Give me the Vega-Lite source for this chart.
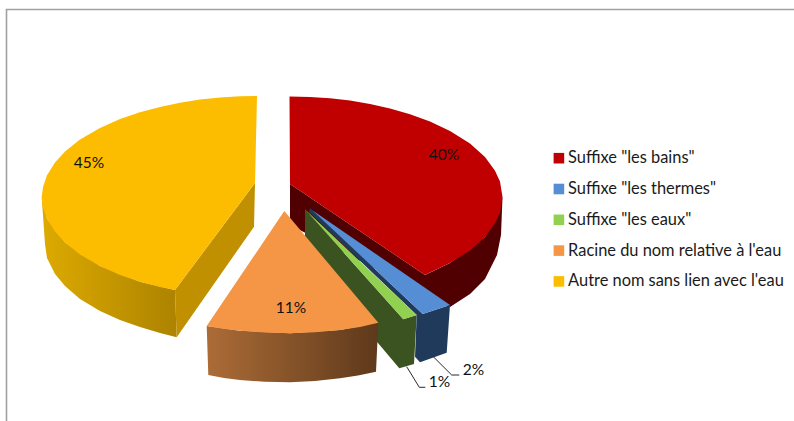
{"$schema":"https://vega.github.io/schema/vega-lite/v6.json","width":794,"height":421,"padding":0,"autosize":"none","background":"white","view":{"stroke":null},
"config":{"font":"Lato"},
"datasets":{
"parts":[
{"serie":"Suffixe \"les bains\"","part":0.40,"x":444,"y":155},
{"serie":"Suffixe \"les thermes\"","part":0.02,"x":473.5,"y":370},
{"serie":"Suffixe \"les eaux\"","part":0.01,"x":439.5,"y":382},
{"serie":"Racine du nom relative à l'eau","part":0.11,"x":291,"y":308},
{"serie":"Autre nom sans lien avec l'eau","part":0.45,"x":89,"y":162.5}
],
"formes":[
{"face":"cadre","ordre":1,"x":6.5,"y":421},{"face":"cadre","ordre":2,"x":6.5,"y":9.5},{"face":"cadre","ordre":3,"x":794,"y":9.5},
{"face":"repere2","ordre":1,"x":433.3,"y":356.7},{"face":"repere2","ordre":2,"x":451.7,"y":375},{"face":"repere2","ordre":3,"x":459.3,"y":375},
{"face":"repere1","ordre":1,"x":406.7,"y":366.7},{"face":"repere1","ordre":2,"x":419.3,"y":387.3},{"face":"repere1","ordre":3,"x":425.3,"y":387.3},

{"face":"flanc_jaune_courbe","ordre":1,"x":41.7,"y":197},{"face":"flanc_jaune_courbe","ordre":2,"x":47,"y":218.7},{"face":"flanc_jaune_courbe","ordre":3,"x":65,"y":242.5},{"face":"flanc_jaune_courbe","ordre":4,"x":100,"y":266},{"face":"flanc_jaune_courbe","ordre":5,"x":140,"y":281.7},{"face":"flanc_jaune_courbe","ordre":6,"x":175,"y":290},{"face":"flanc_jaune_courbe","ordre":7,"x":176.7,"y":337.3},{"face":"flanc_jaune_courbe","ordre":8,"x":160,"y":333},{"face":"flanc_jaune_courbe","ordre":9,"x":140,"y":327},{"face":"flanc_jaune_courbe","ordre":10,"x":120,"y":320},{"face":"flanc_jaune_courbe","ordre":11,"x":100,"y":311},{"face":"flanc_jaune_courbe","ordre":12,"x":80,"y":299},{"face":"flanc_jaune_courbe","ordre":13,"x":65,"y":286},{"face":"flanc_jaune_courbe","ordre":14,"x":55,"y":274},{"face":"flanc_jaune_courbe","ordre":15,"x":47,"y":258},{"face":"flanc_jaune_courbe","ordre":16,"x":45,"y":244},
{"face":"flanc_jaune_plat","ordre":1,"x":175,"y":290},{"face":"flanc_jaune_plat","ordre":2,"x":255,"y":183},{"face":"flanc_jaune_plat","ordre":3,"x":254,"y":226.7},{"face":"flanc_jaune_plat","ordre":4,"x":176.7,"y":337.3},

{"face":"flanc_rouge","ordre":1,"x":290,"y":184},{"face":"flanc_rouge","ordre":2,"x":425,"y":275},{"face":"flanc_rouge","ordre":3,"x":450,"y":263},{"face":"flanc_rouge","ordre":4,"x":485,"y":237},{"face":"flanc_rouge","ordre":5,"x":502.5,"y":197},{"face":"flanc_rouge","ordre":6,"x":501,"y":235},{"face":"flanc_rouge","ordre":7,"x":497,"y":255},{"face":"flanc_rouge","ordre":8,"x":485,"y":279},{"face":"flanc_rouge","ordre":9,"x":470,"y":294},{"face":"flanc_rouge","ordre":10,"x":450,"y":307},{"face":"flanc_rouge","ordre":11,"x":290,"y":225},

{"face":"flanc_vert","ordre":1,"x":305,"y":209.3},{"face":"flanc_vert","ordre":2,"x":403.3,"y":319.3},{"face":"flanc_vert","ordre":3,"x":416.7,"y":315},{"face":"flanc_vert","ordre":4,"x":414,"y":364},{"face":"flanc_vert","ordre":5,"x":399.3,"y":368.3},{"face":"flanc_vert","ordre":6,"x":378,"y":343},{"face":"flanc_vert","ordre":7,"x":305,"y":260},

{"face":"flanc_bleu","ordre":1,"x":310,"y":208},{"face":"flanc_bleu","ordre":2,"x":422.7,"y":314},{"face":"flanc_bleu","ordre":3,"x":450,"y":305},{"face":"flanc_bleu","ordre":4,"x":446.7,"y":352.7},{"face":"flanc_bleu","ordre":5,"x":420,"y":362.3},{"face":"flanc_bleu","ordre":6,"x":415,"y":356.7},{"face":"flanc_bleu","ordre":7,"x":416.7,"y":315},{"face":"flanc_bleu","ordre":8,"x":309,"y":212},

{"face":"flanc_orange","ordre":1,"x":206.7,"y":326},{"face":"flanc_orange","ordre":2,"x":240,"y":330.7},{"face":"flanc_orange","ordre":3,"x":290,"y":333.3},{"face":"flanc_orange","ordre":4,"x":340,"y":330},{"face":"flanc_orange","ordre":5,"x":378.3,"y":322.7},{"face":"flanc_orange","ordre":6,"x":376,"y":371.7},{"face":"flanc_orange","ordre":7,"x":358,"y":375.5},{"face":"flanc_orange","ordre":8,"x":340,"y":378.3},{"face":"flanc_orange","ordre":9,"x":315,"y":381},{"face":"flanc_orange","ordre":10,"x":290,"y":382.3},{"face":"flanc_orange","ordre":11,"x":265,"y":381.8},{"face":"flanc_orange","ordre":12,"x":240,"y":380},{"face":"flanc_orange","ordre":13,"x":224,"y":378},{"face":"flanc_orange","ordre":14,"x":208.3,"y":375},

{"face":"dessus","serie":"Autre nom sans lien avec l'eau","ordre":1,"x":257,"y":96},{"face":"dessus","serie":"Autre nom sans lien avec l'eau","ordre":2,"x":240,"y":96.3},{"face":"dessus","serie":"Autre nom sans lien avec l'eau","ordre":3,"x":220,"y":97.5},{"face":"dessus","serie":"Autre nom sans lien avec l'eau","ordre":4,"x":200,"y":99.6},{"face":"dessus","serie":"Autre nom sans lien avec l'eau","ordre":5,"x":180,"y":102.7},{"face":"dessus","serie":"Autre nom sans lien avec l'eau","ordre":6,"x":160,"y":106.9},{"face":"dessus","serie":"Autre nom sans lien avec l'eau","ordre":7,"x":140,"y":112.3},{"face":"dessus","serie":"Autre nom sans lien avec l'eau","ordre":8,"x":120,"y":119.1},{"face":"dessus","serie":"Autre nom sans lien avec l'eau","ordre":9,"x":100,"y":128},{"face":"dessus","serie":"Autre nom sans lien avec l'eau","ordre":10,"x":80,"y":139.6},{"face":"dessus","serie":"Autre nom sans lien avec l'eau","ordre":11,"x":65,"y":151.5},{"face":"dessus","serie":"Autre nom sans lien avec l'eau","ordre":12,"x":55,"y":162.4},{"face":"dessus","serie":"Autre nom sans lien avec l'eau","ordre":13,"x":47,"y":175.3},{"face":"dessus","serie":"Autre nom sans lien avec l'eau","ordre":14,"x":43,"y":187},{"face":"dessus","serie":"Autre nom sans lien avec l'eau","ordre":15,"x":41.7,"y":197},{"face":"dessus","serie":"Autre nom sans lien avec l'eau","ordre":16,"x":43,"y":207},{"face":"dessus","serie":"Autre nom sans lien avec l'eau","ordre":17,"x":47,"y":218.7},{"face":"dessus","serie":"Autre nom sans lien avec l'eau","ordre":18,"x":55,"y":231.6},{"face":"dessus","serie":"Autre nom sans lien avec l'eau","ordre":19,"x":65,"y":242.5},{"face":"dessus","serie":"Autre nom sans lien avec l'eau","ordre":20,"x":80,"y":254.4},{"face":"dessus","serie":"Autre nom sans lien avec l'eau","ordre":21,"x":100,"y":266},{"face":"dessus","serie":"Autre nom sans lien avec l'eau","ordre":22,"x":120,"y":274.9},{"face":"dessus","serie":"Autre nom sans lien avec l'eau","ordre":23,"x":140,"y":281.7},{"face":"dessus","serie":"Autre nom sans lien avec l'eau","ordre":24,"x":160,"y":287.1},{"face":"dessus","serie":"Autre nom sans lien avec l'eau","ordre":25,"x":175,"y":290},{"face":"dessus","serie":"Autre nom sans lien avec l'eau","ordre":26,"x":255,"y":183},

{"face":"dessus","serie":"Suffixe \"les bains\"","ordre":1,"x":289.5,"y":96.5},{"face":"dessus","serie":"Suffixe \"les bains\"","ordre":2,"x":310,"y":97},{"face":"dessus","serie":"Suffixe \"les bains\"","ordre":3,"x":330,"y":98.3},{"face":"dessus","serie":"Suffixe \"les bains\"","ordre":4,"x":350,"y":100.6},{"face":"dessus","serie":"Suffixe \"les bains\"","ordre":5,"x":370,"y":104},{"face":"dessus","serie":"Suffixe \"les bains\"","ordre":6,"x":390,"y":108.4},{"face":"dessus","serie":"Suffixe \"les bains\"","ordre":7,"x":410,"y":114.2},{"face":"dessus","serie":"Suffixe \"les bains\"","ordre":8,"x":430,"y":121.5},{"face":"dessus","serie":"Suffixe \"les bains\"","ordre":9,"x":450,"y":131},{"face":"dessus","serie":"Suffixe \"les bains\"","ordre":10,"x":470,"y":143.6},{"face":"dessus","serie":"Suffixe \"les bains\"","ordre":11,"x":485,"y":157},{"face":"dessus","serie":"Suffixe \"les bains\"","ordre":12,"x":495,"y":170.7},{"face":"dessus","serie":"Suffixe \"les bains\"","ordre":13,"x":500,"y":181.5},{"face":"dessus","serie":"Suffixe \"les bains\"","ordre":14,"x":502.5,"y":197},{"face":"dessus","serie":"Suffixe \"les bains\"","ordre":15,"x":500,"y":212.5},{"face":"dessus","serie":"Suffixe \"les bains\"","ordre":16,"x":495,"y":223.3},{"face":"dessus","serie":"Suffixe \"les bains\"","ordre":17,"x":485,"y":237},{"face":"dessus","serie":"Suffixe \"les bains\"","ordre":18,"x":470,"y":250.4},{"face":"dessus","serie":"Suffixe \"les bains\"","ordre":19,"x":450,"y":263},{"face":"dessus","serie":"Suffixe \"les bains\"","ordre":20,"x":430,"y":272.5},{"face":"dessus","serie":"Suffixe \"les bains\"","ordre":21,"x":425,"y":275},{"face":"dessus","serie":"Suffixe \"les bains\"","ordre":22,"x":290,"y":184},

{"face":"dessus","serie":"Suffixe \"les eaux\"","ordre":1,"x":305,"y":209.3},{"face":"dessus","serie":"Suffixe \"les eaux\"","ordre":2,"x":416.7,"y":315},{"face":"dessus","serie":"Suffixe \"les eaux\"","ordre":3,"x":403.3,"y":319.3},

{"face":"dessus","serie":"Suffixe \"les thermes\"","ordre":1,"x":312,"y":210},{"face":"dessus","serie":"Suffixe \"les thermes\"","ordre":2,"x":450,"y":305},{"face":"dessus","serie":"Suffixe \"les thermes\"","ordre":3,"x":422.7,"y":314},

{"face":"dessus","serie":"Racine du nom relative à l'eau","ordre":1,"x":284.3,"y":211},{"face":"dessus","serie":"Racine du nom relative à l'eau","ordre":2,"x":378.3,"y":322.7},{"face":"dessus","serie":"Racine du nom relative à l'eau","ordre":3,"x":360,"y":327},{"face":"dessus","serie":"Racine du nom relative à l'eau","ordre":4,"x":340,"y":330},{"face":"dessus","serie":"Racine du nom relative à l'eau","ordre":5,"x":315,"y":332.3},{"face":"dessus","serie":"Racine du nom relative à l'eau","ordre":6,"x":290,"y":333.3},{"face":"dessus","serie":"Racine du nom relative à l'eau","ordre":7,"x":265,"y":332.5},{"face":"dessus","serie":"Racine du nom relative à l'eau","ordre":8,"x":240,"y":330.7},{"face":"dessus","serie":"Racine du nom relative à l'eau","ordre":9,"x":223,"y":328.7},{"face":"dessus","serie":"Racine du nom relative à l'eau","ordre":10,"x":206.7,"y":326}
]},
"data":{"name":"formes"},
"encoding":{
"x":{"field":"x","type":"quantitative","axis":null,"scale":{"domain":[0,794],"nice":false,"zero":false}},
"y":{"field":"y","type":"quantitative","axis":null,"scale":{"domain":[421,0],"nice":false,"zero":false}},
"order":{"field":"ordre","type":"quantitative"}
},
"layer":[
{"transform":[{"filter":"datum.face==='cadre'"}],"mark":{"type":"line","stroke":"#A0A0A0","strokeWidth":1.6}},
{"transform":[{"filter":"datum.face==='flanc_jaune_courbe'"}],"mark":{"type":"line","strokeWidth":0,"fill":{"gradient":"linear","x1":0,"x2":1,"y1":0,"y2":0,"stops":[{"offset":0,"color":"#DDAA00"},{"offset":1,"color":"#AD8300"}]}}},
{"transform":[{"filter":"datum.face==='flanc_jaune_plat'"}],"mark":{"type":"line","strokeWidth":0,"fill":"#C09000"}},
{"transform":[{"filter":"datum.face==='flanc_rouge'"}],"mark":{"type":"line","strokeWidth":0,"fill":"#500000"}},
{"transform":[{"filter":"datum.face==='flanc_vert'"}],"mark":{"type":"line","strokeWidth":0,"fill":"#3B5320"}},
{"transform":[{"filter":"datum.face==='flanc_bleu'"}],"mark":{"type":"line","strokeWidth":0,"fill":"#203A5C"}},
{"transform":[{"filter":"datum.face==='flanc_orange'"}],"mark":{"type":"line","strokeWidth":0,"fill":{"gradient":"linear","x1":0,"x2":1,"y1":0,"y2":0,"stops":[{"offset":0,"color":"#AC6C37"},{"offset":1,"color":"#5E391B"}]}}},
{"transform":[{"filter":"datum.face==='dessus'"}],"mark":{"type":"line","strokeWidth":0,"filled":true},
"encoding":{"fill":{"field":"serie","type":"nominal","scale":{"domain":["Suffixe \"les bains\"","Suffixe \"les thermes\"","Suffixe \"les eaux\"","Racine du nom relative à l'eau","Autre nom sans lien avec l'eau"],"range":["#C00000","#558ED5","#92D050","#F59546","#FCBD00"]},
"legend":{"orient":"none","legendX":550.7,"legendY":150,"title":null,"symbolType":"square","symbolSize":112,"symbolStrokeWidth":0,"symbolOpacity":1,"labelFont":"Lato","labelFontSize":16.4,"labelColor":"#1a1a1a","labelOffset":1,"rowPadding":13.8,"labelLimit":300}}}},
{"transform":[{"filter":"datum.face==='repere1'||datum.face==='repere2'"}],"mark":{"type":"line","stroke":"#111111","strokeWidth":0.9},"encoding":{"detail":{"field":"face"}}},
{"data":{"name":"parts"},"mark":{"type":"text","font":"Lato","fontSize":15.5,"color":"#111111","align":"center","baseline":"middle"},"encoding":{"text":{"field":"part","type":"quantitative","format":".0%"},"order":{"value":null}}}
]}
